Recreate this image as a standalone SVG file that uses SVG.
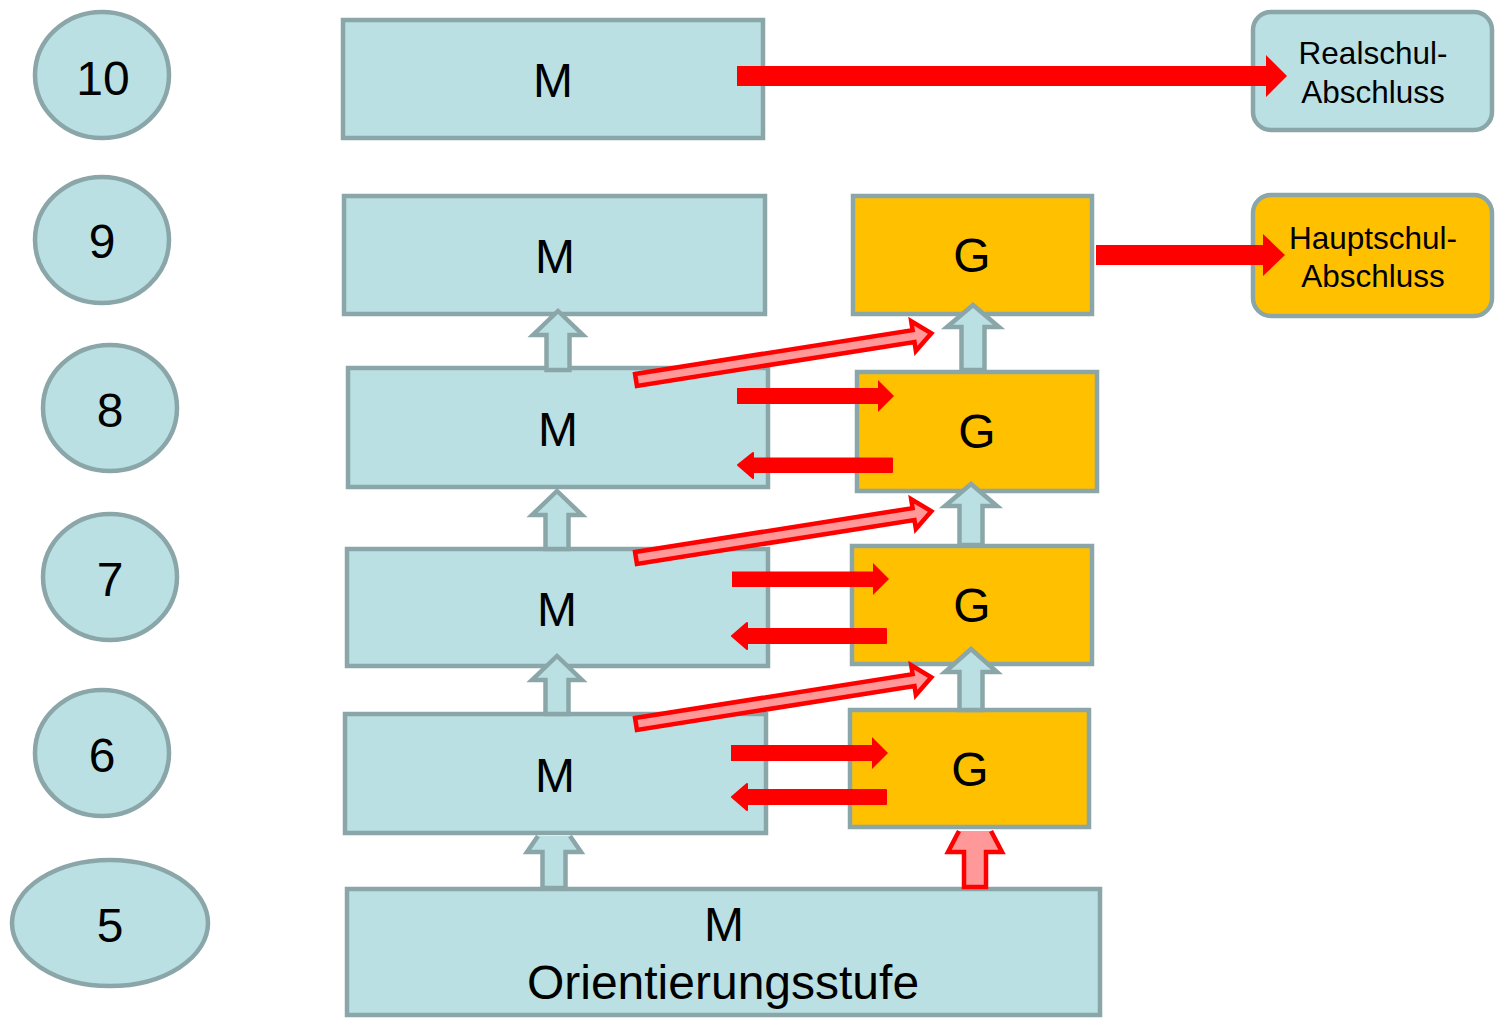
<svg xmlns="http://www.w3.org/2000/svg" width="1499" height="1023" viewBox="0 0 1499 1023">
<style>
.b{fill:#bae0e3;stroke:#8aa6a8;stroke-width:4.5}
.o{fill:#ffc000;stroke:#8aa6a8;stroke-width:4.5}
.t{font-family:"Liberation Sans",Arial,sans-serif;font-size:48px;fill:#000;text-anchor:middle}
.s{font-family:"Liberation Sans",Arial,sans-serif;font-size:31.5px;fill:#000;text-anchor:middle}
.ua{fill:#bae0e3;stroke:#8aa6a8;stroke-width:4.5}
.ur{fill:#ff9999;stroke:#ff0000;stroke-width:4.5}
.r{fill:#ff0000}
.rl{fill:#ff0000;stroke:#ff0000;stroke-width:2;stroke-linejoin:round}
.d{fill:#ff9999;stroke:#ff0000;stroke-width:4.5}
</style>
<rect width="1499" height="1023" fill="#fff"/>
<g id="nodes">
<g id="y10"><ellipse class="b" cx="102" cy="75" rx="67" ry="63"/><text class="t" x="103" y="95">10</text></g>
<g id="y9"><ellipse class="b" cx="102" cy="240" rx="67" ry="63"/><text class="t" x="102" y="258">9</text></g>
<g id="y8"><ellipse class="b" cx="110" cy="408" rx="67" ry="63"/><text class="t" x="110" y="427">8</text></g>
<g id="y7"><ellipse class="b" cx="110" cy="577" rx="67" ry="63"/><text class="t" x="110" y="596">7</text></g>
<g id="y6"><ellipse class="b" cx="102" cy="753" rx="67" ry="63"/><text class="t" x="102" y="772">6</text></g>
<g id="y5"><ellipse class="b" cx="110" cy="923" rx="98" ry="63"/><text class="t" x="110" y="942">5</text></g>
<g id="m10"><rect class="b" x="343" y="20" width="420" height="118"/><text class="t" x="553" y="97">M</text></g>
<g id="m9"><rect class="b" x="344" y="196" width="421" height="118"/><text class="t" x="555" y="273">M</text></g>
<g id="m8"><rect class="b" x="348" y="368" width="420" height="119"/><text class="t" x="558" y="446">M</text></g>
<g id="m7"><rect class="b" x="347" y="549" width="421" height="117"/><text class="t" x="557" y="626">M</text></g>
<g id="m6"><rect class="b" x="345" y="714" width="421" height="119"/><text class="t" x="555" y="792">M</text></g>
<g id="m5"><rect class="b" x="347" y="889" width="753" height="126"/><text class="t" x="724" y="941">M</text><text class="t" x="723" y="999">Orientierungsstufe</text></g>
<g id="g9"><rect class="o" x="853" y="196" width="239" height="118"/><text class="t" x="972" y="272">G</text></g>
<g id="g8"><rect class="o" x="857" y="372" width="240" height="119"/><text class="t" x="977" y="448">G</text></g>
<g id="g7"><rect class="o" x="852" y="546" width="240" height="118"/><text class="t" x="972" y="622">G</text></g>
<g id="g6"><rect class="o" x="850" y="710" width="239" height="117"/><text class="t" x="970" y="786">G</text></g>
<g id="realschul"><rect class="b" x="1253" y="12" width="239" height="118" rx="18"/><text class="s" x="1373" y="64">Realschul-</text><text class="s" x="1373" y="103">Abschluss</text></g>
<g id="hauptschul"><rect class="o" x="1253" y="195" width="239" height="121" rx="18"/><text class="s" x="1373" y="249">Hauptschul-</text><text class="s" x="1373" y="287">Abschluss</text></g>
</g>
<g id="connectors">
<polygon class="r" points="737,66 1266,66 1266,55 1287,76 1266,97 1266,86 737,86"/>
<polygon class="r" points="1096,245 1263,245 1263,234 1285,255 1263,276 1263,265 1096,265"/>
<polygon class="ua" points="558,311 583,335 569.5,335 569.5,370 546.5,370 546.5,335 533,335"/>
<polygon class="ua" points="557,491 582,515 568.5,515 568.5,549 545.5,549 545.5,515 532,515"/>
<polygon class="ua" points="557,656 582,680 568.5,680 568.5,714 545.5,714 545.5,680 532,680"/>
<path class="ua" d="M538,836 L527,852 L542.5,852 L542.5,888 L565.5,888 L565.5,852 L581,852 L570,836"/>
<path class="ur" d="M959,831 L948,852 L964,852 L964,887 L986,887 L986,852 L1002,852 L991,831"/>
<polygon class="ua" points="973,305 999,327 984.5,327 984.5,370 961.5,370 961.5,327 947,327"/>
<polygon class="ua" points="971,484 997,506 982.5,506 982.5,545 959.5,545 959.5,506 945,506"/>
<polygon class="ua" points="971,649 997,672 982.5,672 982.5,710 959.5,710 959.5,672 945,672"/>
<polygon class="d" transform="translate(636,380) rotate(-9)" points="0,-6 281,-6 281,-15 299,0 281,15 281,6 0,6"/>
<polygon class="d" transform="translate(636,558) rotate(-9)" points="0,-6 281,-6 281,-15 299,0 281,15 281,6 0,6"/>
<polygon class="d" transform="translate(636,724) rotate(-9)" points="0,-6 281,-6 281,-15 299,0 281,15 281,6 0,6"/>
<polygon class="r" points="737,388 878,388 878,380 894,396 878,412 878,404 737,404"/>
<polygon class="r" points="732,571.5 873,571.5 873,563 889,579 873,595 873,587 732,587"/>
<polygon class="r" points="731,745 872,745 872,737 888,753 872,769 872,761 731,761"/>
<polygon class="rl" points="892,458.5 753,458.5 753,453 738,465 753,478 753,472 892,472"/>
<polygon class="rl" points="886,629 747,629 747,623 732,636 747,649 747,643 886,643"/>
<polygon class="rl" points="886,790 747,790 747,784 732,797 747,810 747,804 886,804"/>
</g>
</svg>
